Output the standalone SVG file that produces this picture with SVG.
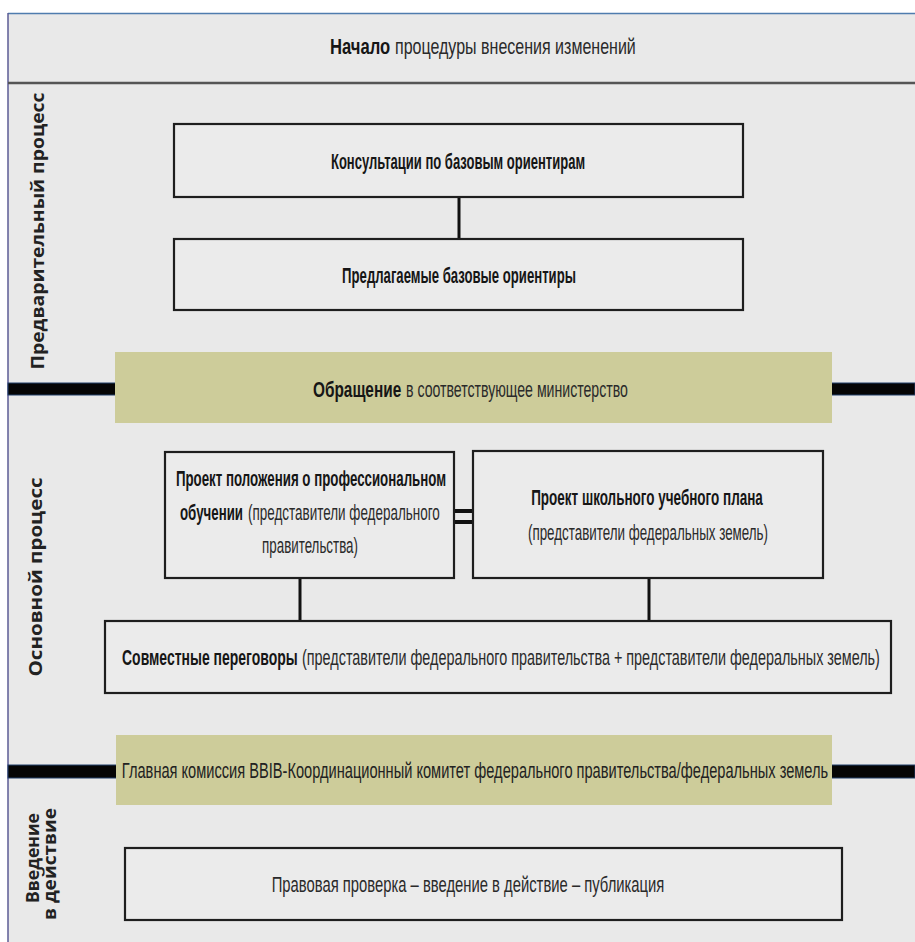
<svg xmlns="http://www.w3.org/2000/svg" width="915" height="942" viewBox="0 0 915 942">
<style>
.bg{fill:#e9e9e9}
.box{fill:#ebebeb;stroke:#1e1e1e;stroke-width:2.2}
.olive{fill:#cdcc9a}
.bar{fill:#050505;stroke:#23406a;stroke-width:1}
.con{stroke:#111;stroke-width:3;fill:none}
.t{font-family:"Liberation Sans Narrow","Liberation Sans",Arial,sans-serif;font-size:22px;fill:#2a2a2a;text-anchor:middle}
.s{text-anchor:start}
.b{font-weight:bold;fill:#161616}
.v{font-family:"Open Sans","Noto Sans","DejaVu Sans",sans-serif;font-size:17px;font-weight:700;fill:#222;text-anchor:middle}
</style>
<rect x="0" y="0" width="915" height="942" fill="#ffffff"/>
<rect class="bg" x="8" y="13" width="907" height="929"/>
<line x1="8" y1="13.5" x2="915" y2="13.5" stroke="#4f7cae" stroke-width="1.5"/>
<line x1="8" y1="13" x2="8" y2="942" stroke="#5b5b95" stroke-width="1.5"/>
<line x1="8" y1="83" x2="915" y2="83" stroke="#555" stroke-width="2.5"/>

<g id="header">
<text class="t s b" transform="translate(330,54) scale(0.7,1)" textLength="86" lengthAdjust="spacingAndGlyphs">Начало</text>
<text class="t s" transform="translate(395,54) scale(0.7,1)" textLength="344" lengthAdjust="spacingAndGlyphs">процедуры внесения изменений</text>
</g>

<g id="lane-labels">
<text class="v" transform="translate(44,231) rotate(-90)" textLength="277" lengthAdjust="spacingAndGlyphs">Предварительный процесс</text>
<text class="v" transform="translate(42,577) rotate(-90)" textLength="199" lengthAdjust="spacingAndGlyphs">Основной процесс</text>
<text class="v" transform="translate(39,858) rotate(-90)" textLength="90" lengthAdjust="spacingAndGlyphs">Введение</text>
<text class="v" transform="translate(56,864) rotate(-90)" textLength="112" lengthAdjust="spacingAndGlyphs">в действие</text>
</g>

<g id="bars">
<rect class="bar" x="8" y="383" width="108" height="12"/>
<rect class="bar" x="831" y="383" width="84" height="12"/>
<rect class="bar" x="8" y="765" width="109" height="13"/>
<rect class="bar" x="831" y="765" width="84" height="13"/>
</g>

<g id="connectors">
<line class="con" x1="459" y1="197" x2="459" y2="239"/>
<line class="con" x1="300" y1="578" x2="300" y2="621"/>
<line class="con" x1="649" y1="578" x2="649" y2="621"/>
<line x1="454" y1="511" x2="473" y2="511" stroke="#111" stroke-width="4"/>
<line x1="454" y1="522" x2="473" y2="522" stroke="#111" stroke-width="4"/>
</g>

<g id="n-consult">
<rect class="box" x="174" y="124" width="569" height="73"/>
<text class="t b" transform="translate(458,169) scale(0.7,1)" textLength="363" lengthAdjust="spacingAndGlyphs">Консультации по базовым ориентирам</text>
</g>

<g id="n-proposed">
<rect class="box" x="174" y="239" width="569" height="71"/>
<text class="t b" transform="translate(459,283) scale(0.7,1)" textLength="334" lengthAdjust="spacingAndGlyphs">Предлагаемые базовые ориентиры</text>
</g>

<g id="n-appeal">
<rect class="olive" x="115" y="352" width="717" height="71"/>
<text class="t s b" transform="translate(313,397) scale(0.7,1)" textLength="126" lengthAdjust="spacingAndGlyphs">Обращение</text>
<text class="t s" transform="translate(406,397) scale(0.7,1)" textLength="317" lengthAdjust="spacingAndGlyphs">в соответствующее министерство</text>
</g>

<g id="n-vocational">
<rect class="box" x="165" y="452" width="289" height="126"/>
<text class="t b" transform="translate(311,486) scale(0.7,1)" textLength="386" lengthAdjust="spacingAndGlyphs">Проект положения о профессиональном</text>
<text class="t s b" transform="translate(180,520) scale(0.7,1)" textLength="90" lengthAdjust="spacingAndGlyphs">обучении</text>
<text class="t s" transform="translate(248,520) scale(0.7,1)" textLength="274" lengthAdjust="spacingAndGlyphs">(представители федерального</text>
<text class="t" transform="translate(310,553) scale(0.7,1)" textLength="137" lengthAdjust="spacingAndGlyphs">правительства)</text>
</g>

<g id="n-curriculum">
<rect class="box" x="473" y="451" width="350" height="127"/>
<text class="t b" transform="translate(647,505) scale(0.7,1)" textLength="331" lengthAdjust="spacingAndGlyphs">Проект школьного учебного плана</text>
<text class="t" transform="translate(648,540) scale(0.7,1)" textLength="343" lengthAdjust="spacingAndGlyphs">(представители федеральных земель)</text>
</g>

<g id="n-joint">
<rect class="box" x="105" y="621" width="786" height="72"/>
<text class="t s b" transform="translate(122,665) scale(0.7,1)" textLength="251" lengthAdjust="spacingAndGlyphs">Совместные переговоры</text>
<text class="t s" transform="translate(302,665) scale(0.64,1)" textLength="903" lengthAdjust="spacingAndGlyphs">(представители федерального правительства + представители федеральных земель)</text>
</g>

<g id="n-commission">
<rect class="olive" x="116" y="735" width="716" height="70"/>
<text class="t" transform="translate(475,778) scale(0.7,1)" textLength="1009" lengthAdjust="spacingAndGlyphs" style="fill:#222">Главная комиссия BBIB-Координационный комитет федерального правительства/федеральных земель</text>
</g>

<g id="n-legal">
<rect class="box" x="125" y="848" width="717" height="72"/>
<text class="t" transform="translate(468,892) scale(0.7,1)" textLength="561" lengthAdjust="spacingAndGlyphs">Правовая проверка – введение в действие – публикация</text>
</g>
</svg>
